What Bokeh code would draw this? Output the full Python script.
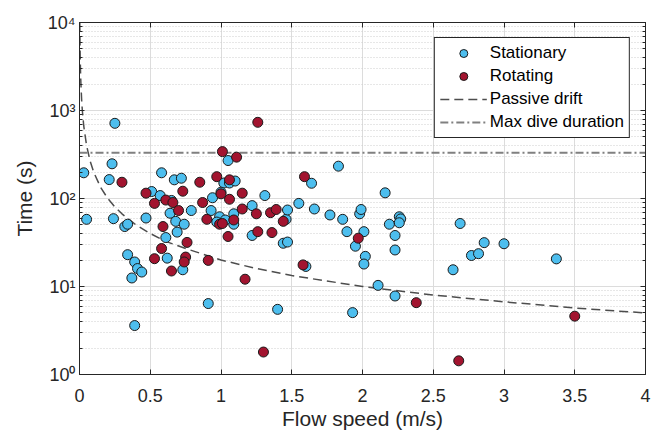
from bokeh.plotting import figure
from bokeh.models import (ColumnDataSource, Range1d, FixedTicker, LogAxis,
                          LinearAxis, Legend, LegendItem)
from bokeh.embed import file_html
from bokeh.resources import INLINE

# ---------------- data ----------------
stat_speed = [0.03, 0.05, 0.21, 0.23, 0.25, 0.24, 0.32, 0.34, 0.34, 0.39,
              0.41, 0.44, 0.37, 0.39, 0.47, 0.51, 0.57, 0.58, 0.61, 0.62,
              0.64, 0.68, 0.69, 0.74, 0.73, 0.67, 0.72, 0.65, 0.79, 0.93,
              0.94, 0.99, 0.97, 1.02, 1.06, 1.10, 1.05, 1.09, 1.09, 1.22,
              1.22, 1.31, 1.44, 1.47, 1.46, 1.47, 1.55, 1.64, 1.66, 1.77,
              1.83, 1.86, 1.89, 1.95, 1.98, 1.99, 2.01, 2.02, 2.01, 2.11,
              1.93, 2.16, 2.19, 2.23, 2.23, 2.26, 2.27, 2.26, 2.23, 2.69,
              2.64, 2.77, 2.82, 2.86, 3.00, 3.37, 0.91, 1.40, 1.60, 1.03,
              1.00]
stat_time = [196, 58, 164, 248, 715, 59, 48, 51, 23, 19,
             16, 14.6, 12.5, 3.6, 60, 120, 108, 196, 36, 21,
             68, 55, 41.5, 51, 15.5, 163, 170, 95, 73, 73,
             102, 62, 54, 150, 150, 158, 270, 67, 51, 83,
             38, 108, 31, 32, 58, 74, 88, 149, 76, 65,
             233, 58, 42, 28.7, 67, 75, 42, 22, 18, 10.3,
             5.05, 116, 51, 38, 26, 62, 58.6, 53, 7.8, 52,
             15.5, 22.5, 23.6, 31.5, 30.6, 20.6, 6.4, 5.5, 16.9, 57,
             118]

rot_speed = [0.30, 0.47, 0.53, 0.61, 0.66, 0.70, 0.73, 0.85, 0.87, 0.97,
             1.01, 1.11, 1.06, 1.00, 1.06, 1.15, 1.15, 1.25, 1.26, 1.35,
             1.39, 1.59, 0.59, 0.58, 0.53, 0.65, 0.76, 0.75, 0.74, 0.90,
             0.91, 0.99, 1.01, 1.05, 1.09, 1.26, 1.36, 1.44, 1.17, 1.30,
             1.58, 1.97, 2.38, 2.68, 3.50]
rot_time = [153, 115, 88, 96, 90, 73, 121, 153, 90, 177,
            341, 295, 163, 113, 98, 115, 76, 67, 734, 69,
            75, 177, 48, 27, 20.7, 15, 31.7, 21.6, 19, 58,
            19.8, 51, 52, 37, 57, 42, 41, 55, 12.1, 1.8,
            17.6, 35.4, 6.55, 1.43, 4.6]

drift_speed = [0.002, 0.003, 0.005, 0.0075, 0.01, 0.015, 0.02, 0.03, 0.05,
               0.075, 0.1, 0.15, 0.2, 0.25, 0.3, 0.4, 0.5, 0.6, 0.75, 1.0,
               1.25, 1.5, 2.0, 2.5, 3.0, 3.5, 4.0]
drift_time = [10000, 6670, 4000, 2670, 2000, 1330, 1000, 667, 400,
              267, 200, 133, 100, 80, 67, 50, 40, 33, 27, 20,
              16, 13.3, 10, 8, 6.7, 5.7, 5]

max_dive_speed = [0, 4]
max_dive_time = [330, 330]

x_ticks = [0, 0.5, 1, 1.5, 2, 2.5, 3, 3.5, 4]
x_tick_labels = ["0", "0.5", "1", "1.5", "2", "2.5", "3", "3.5", "4"]
y_ticks = [1, 10, 100, 1000, 10000]
y_tick_labels = ["10\u2070", "10\u00b9", "10\u00b2", "10\u00b3", "10\u2074"]
y_minor = [m * d for d in [1, 10, 100, 1000] for m in range(2, 10)]

# ---------------- styles ----------------
FONT = "Liberation Sans"
AX = "#262626"
BLUE = "#4DBEEE"
RED = "#A2142F"

p = figure(width=651, height=434, x_range=Range1d(0, 4),
           y_range=Range1d(1, 10000), y_axis_type="log",
           output_backend="svg", toolbar_location=None,
           min_border_left=79, min_border_right=6, min_border_top=22,
           min_border_bottom=60, background_fill_color="white",
           border_fill_color="white")
p.outline_line_color = AX
p.outline_line_width = 1
p.outline_line_alpha = 1

xt = FixedTicker(ticks=x_ticks)
yt = FixedTicker(ticks=y_ticks, minor_ticks=y_minor)

p.xaxis.ticker = xt
p.yaxis.ticker = yt
p.xaxis.major_label_overrides = {t: l for t, l in zip(x_ticks, x_tick_labels)}
p.yaxis.major_label_overrides = {t: l for t, l in zip(y_ticks, y_tick_labels)}

for ax in (p.xaxis[0], p.yaxis[0]):
    ax.axis_line_color = AX
    ax.major_tick_line_color = AX
    ax.minor_tick_line_color = AX
    ax.major_tick_in = 5
    ax.major_tick_out = 0
    ax.minor_tick_in = 3
    ax.minor_tick_out = 0
    ax.major_label_text_font = FONT
    ax.major_label_text_font_size = "18px"
    ax.major_label_text_color = AX
    ax.axis_label_text_font = FONT
    ax.axis_label_text_font_size = "21px"
    ax.axis_label_text_font_style = "normal"
    ax.axis_label_text_color = AX
p.xaxis.minor_tick_line_color = None
p.xaxis.axis_label = "Flow speed (m/s)"
p.yaxis.axis_label = "Time (s)"
p.xaxis.major_label_standoff = 14
p.xaxis.axis_label_standoff = 2
p.yaxis.major_label_standoff = 4
p.yaxis.axis_label_standoff = 9

right = LogAxis(ticker=yt, major_label_text_color=None,
                major_label_standoff=0, axis_line_color=AX,
                major_tick_line_color=AX, minor_tick_line_color=AX,
                major_tick_in=5, major_tick_out=0, minor_tick_in=3,
                minor_tick_out=0)
right.major_label_overrides = {t: "" for t in y_ticks}
p.add_layout(right, "right")
top = LinearAxis(ticker=xt, major_label_text_color=None,
                 major_label_standoff=0, axis_line_color=AX,
                 major_tick_line_color=AX, minor_tick_line_color=None,
                 major_tick_in=5, major_tick_out=0)
top.major_label_overrides = {t: "" for t in x_ticks}
p.add_layout(top, "above")

p.xgrid.grid_line_color = "#dcdcdc"
p.ygrid.grid_line_color = "#dcdcdc"
p.ygrid.minor_grid_line_color = "#cfcfcf"
p.ygrid.minor_grid_line_dash = "1 2"

# ---------------- glyphs ----------------
src_s = ColumnDataSource(dict(x=stat_speed, y=stat_time))
src_r = ColumnDataSource(dict(x=rot_speed, y=rot_time))
src_d = ColumnDataSource(dict(x=drift_speed, y=drift_time))
src_m = ColumnDataSource(dict(x=max_dive_speed, y=max_dive_time))

r_d = p.line("x", "y", source=src_d, line_color="#4d4d4d", line_width=1.5,
             line_dash="9 5")
r_m = p.line("x", "y", source=src_m, line_color="#808080", line_width=2,
             line_dash="8 3 2 3")
r_s = p.scatter("x", "y", source=src_s, size=10, fill_color=BLUE,
                line_color="#1a1a1a", line_width=1)
r_r = p.scatter("x", "y", source=src_r, size=10, fill_color=RED,
                line_color="#1a1a1a", line_width=1)

legend = Legend(items=[LegendItem(label="Stationary", renderers=[r_s]),
                       LegendItem(label="Rotating", renderers=[r_r]),
                       LegendItem(label="Passive drift", renderers=[r_d]),
                       LegendItem(label="Max dive duration", renderers=[r_m])],
                location="top_right")
legend.border_line_color = AX
legend.border_line_alpha = 1
legend.border_line_width = 1
legend.background_fill_color = "white"
legend.background_fill_alpha = 1
legend.padding = 5
legend.spacing = 3
legend.margin = 15
legend.label_standoff = 3
legend.glyph_width = 47
legend.glyph_height = 20
legend.label_height = 20
legend.label_text_font = FONT
legend.label_text_font_size = "17px"
legend.label_text_color = "black"
p.add_layout(legend, "center")

open("out.html", "w").write(file_html(p, INLINE))
